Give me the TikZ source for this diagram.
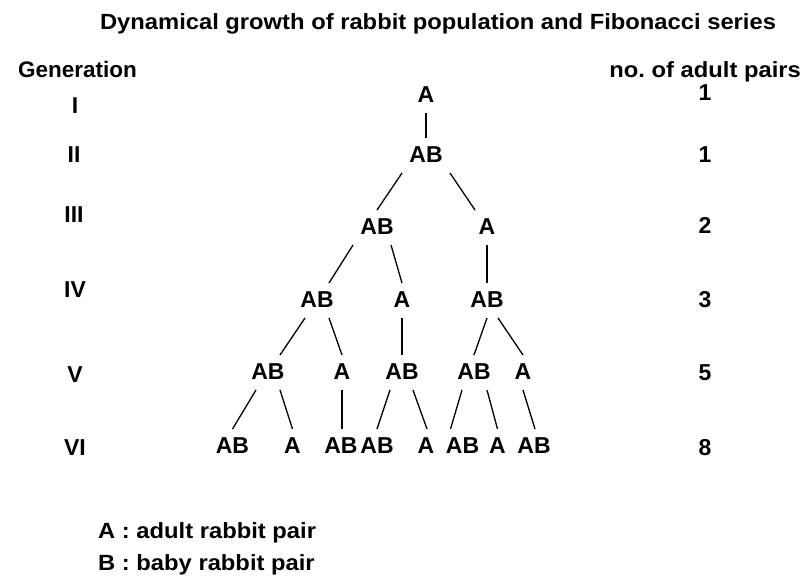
\documentclass[tikz,border=0pt]{standalone}
\usepackage{fontspec}
\setmainfont{Liberation Sans}
\newfontfamily\widefont{Liberation Sans}[FakeStretch=1.08]
\usetikzlibrary{calc}
\frenchspacing
\tikzset{
  lbl/.style={inner sep=0pt, anchor=base, font=\fontsize{23}{27}\selectfont\bfseries},
  widelbl/.style={inner sep=0pt, anchor=base, font=\widefont\fontsize{22}{26}\selectfont\bfseries},
  conn/.style={line width=1.3pt, line cap=butt}
}
\newcommand{\lnk}[4]{\draw[conn] ($(#1.base)+(#2,11)$) -- ($(#3.base)+(#4,-24)$);}
\begin{document}
\begin{tikzpicture}[x=1pt,y=-1pt]
\useasboundingbox[fill=white] (0,0) rectangle (803,579);
% title and headings
\node[widelbl] (title) at (438,29) {Dynamical growth of rabbit population and Fibonacci series};
\node[lbl, font=\fontsize{22.5}{27}\selectfont\bfseries, anchor=base west] (gen) at (18,77) {Generation};
\node[widelbl, anchor=base east] (nap) at (801,77) {no. of adult pairs};
% generation numerals
\node[lbl] (g1) at (75,113) {I};
\node[lbl] (g2) at (74,162) {II};
\node[lbl] (g3) at (74,222) {III};
\node[lbl] (g4) at (75,297) {IV};
\node[lbl] (g5) at (75,382) {V};
\node[lbl] (g6) at (75,455) {VI};
% counts
\node[lbl] (c1) at (705,100) {1};
\node[lbl] (c2) at (705,162) {1};
\node[lbl] (c3) at (705,233) {2};
\node[lbl] (c4) at (705,307) {3};
\node[lbl] (c5) at (705,380) {5};
\node[lbl] (c6) at (705,455) {8};
% tree
\node[lbl] (r1) at (426,102) {A};
\node[lbl] (r2) at (426,162) {AB};
\node[lbl] (r3a) at (377,234) {AB};
\node[lbl] (r3b) at (487,234) {A};
\node[lbl] (r4a) at (317,307) {AB};
\node[lbl] (r4b) at (402,307) {A};
\node[lbl] (r4c) at (487,307) {AB};
\node[lbl] (r5a) at (268,379) {AB};
\node[lbl] (r5b) at (342,379) {A};
\node[lbl] (r5c) at (402,379) {AB};
\node[lbl] (r5d) at (474,379) {AB};
\node[lbl] (r5e) at (523,379) {A};
\node[lbl] (r6a) at (232.5,453) {AB};
\node[lbl] (r6b) at (292.5,453) {A};
\node[lbl] (r6c) at (341,453) {AB};
\node[lbl] (r6d) at (377,453) {AB};
\node[lbl] (r6e) at (426,453) {A};
\node[lbl] (r6f) at (462.5,453) {AB};
\node[lbl] (r6g) at (497.5,453) {A};
\node[lbl] (r6h) at (534,453) {AB};
% connectors
\lnk{r1}{0}{r2}{0}
\lnk{r2}{-24}{r3a}{0}
\lnk{r2}{24}{r3b}{-12}
\lnk{r3a}{-24}{r4a}{12}
\lnk{r3a}{14}{r4b}{0}
\lnk{r3b}{0}{r4c}{0}
\lnk{r4a}{-12}{r5a}{12}
\lnk{r4a}{12}{r5b}{0}
\lnk{r4b}{0}{r5c}{0}
\lnk{r4c}{0}{r5d}{0}
\lnk{r4c}{11}{r5e}{0}
\lnk{r5a}{-12}{r6a}{0}
\lnk{r5a}{12}{r6b}{0}
\lnk{r5b}{0}{r6c}{1}
\lnk{r5c}{-12}{r6d}{0}
\lnk{r5c}{11}{r6e}{1}
\lnk{r5d}{-12}{r6f}{-12}
\lnk{r5d}{13}{r6g}{0}
\lnk{r5e}{0}{r6h}{1}
% legend
\node[widelbl, anchor=base west] (legA) at (98,538) {A : adult rabbit pair};
\node[widelbl, anchor=base west] (legB) at (98,570) {B : baby rabbit pair};
\end{tikzpicture}
\end{document}
